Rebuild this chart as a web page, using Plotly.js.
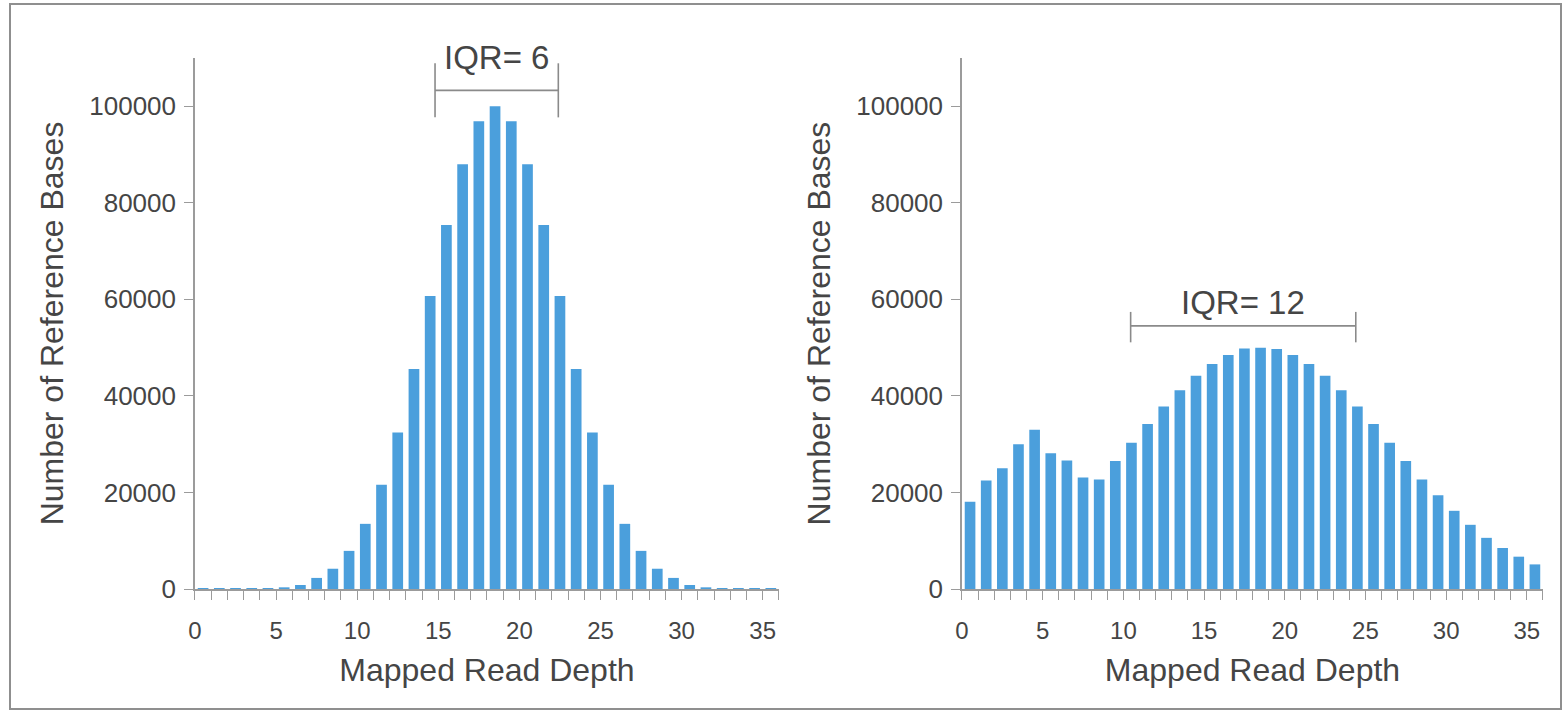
<!DOCTYPE html>
<html>
<head>
<meta charset="utf-8">
<script src="https://cdn.plot.ly/plotly-3.0.1.min.js"></script>
<style>
  html, body { margin: 0; padding: 0; background: #fff; }
  #wrap { position: relative; width: 1566px; height: 715px; overflow: hidden; }
  #chart { position: absolute; left: 0; top: 0; width: 1566px; height: 715px; }
  #frame { position: absolute; left: 9px; top: 3px; width: 1553px; height: 707px;
           border: 2px solid #8f8f8f; pointer-events: none; box-sizing: border-box; }
</style>
</head>
<body>
<div id="wrap">
  <div id="chart"></div>
  <div id="frame"></div>
</div>
<script>
// ---- data ----
const depthBins = [0.5,1.5,2.5,3.5,4.5,5.5,6.5,7.5,8.5,9.5,10.5,11.5,12.5,13.5,14.5,15.5,16.5,17.5,
                   18.5,19.5,20.5,21.5,22.5,23.5,24.5,25.5,26.5,27.5,28.5,29.5,30.5,31.5,32.5,33.5,34.5,35.5];
const leftCounts = [150,150,150,150,150,350,830,2300,4200,7900,13500,21600,32400,45600,60700,75400,88000,96900,
                    100000,96900,88000,75400,60700,45600,32400,21600,13500,7900,4200,2300,830,350,150,150,150,150];
const rightCounts = [18100,22500,25000,30000,33000,28100,26600,23100,22700,26500,30300,34200,37800,41200,44200,46600,48500,49800,
                     50000,49700,48500,46600,44200,41200,37800,34200,30300,26500,22700,19400,16200,13300,10600,8500,6700,5100];
const xTickVals = [0,5,10,15,20,25,30,35];
const yTickVals = [0,20000,40000,60000,80000,100000];
const yTickText = ['0','20000','40000','60000','80000','100000'];
const xTitle = 'Mapped Read Depth';
const yTitle = 'Number of Reference Bases';
const yMax = 110000;
// IQR brackets: [start, end], bar level, tick low/high, label level
const iqrLeft  = {label: 'IQR= 6',  x0: 14.8, x1: 22.4, y: 103300, yLo: 97700, yHi: 108900, labelY: 110000};
const iqrRight = {label: 'IQR= 12', x0: 10.45, x1: 24.4, y: 54500,  yLo: 51100, yHi: 57400,  labelY: 59400};

const barColor = '#4b9fdc';
const axisColor = '#9b9b9b';
const textColor = '#454545';
const fontFam = '"Liberation Sans", Arial, Helvetica, sans-serif';

const traces = [
  {type: 'bar', x: depthBins, y: leftCounts, xaxis: 'x', yaxis: 'y',
   marker: {color: barColor}, width: 0.66, hoverinfo: 'x+y'},
  {type: 'bar', x: depthBins, y: rightCounts, xaxis: 'x2', yaxis: 'y2',
   marker: {color: barColor}, width: 0.66, hoverinfo: 'x+y'}
];

function xAxis(domain, anchor) {
  return {
    domain: domain, anchor: anchor, range: [0, 36],
    tickmode: 'array', tickvals: xTickVals,
    showline: true, linecolor: axisColor, linewidth: 1.5,
    ticks: 'outside', ticklen: 9, tickwidth: 1.2, tickcolor: axisColor,
    ticklabelstandoff: 10,
    minor: {dtick: 1, tick0: 0, ticks: 'outside', ticklen: 9, tickwidth: 1.2, tickcolor: axisColor, showgrid: false},
    showgrid: false, zeroline: false, fixedrange: true,
    tickfont: {family: fontFam, size: 24, color: textColor},
    title: {text: xTitle, font: {family: fontFam, size: 32, color: textColor}, standoff: 16}
  };
}
function yAxis(domain, anchor) {
  return {
    domain: domain, anchor: anchor, range: [0, yMax],
    tickmode: 'array', tickvals: yTickVals, ticktext: yTickText,
    showline: true, linecolor: axisColor, linewidth: 1.5,
    ticks: 'outside', ticklen: 9, tickwidth: 1.2, tickcolor: axisColor,
    ticklabelstandoff: 3,
    showgrid: false, zeroline: false, fixedrange: true,
    tickfont: {family: fontFam, size: 26, color: textColor},
    title: {text: yTitle, font: {family: fontFam, size: 32, color: textColor}, standoff: 16}
  };
}

function bracket(iq, xr, yr) {
  const line = {color: '#8a8a8a', width: 1.6};
  return [
    {type: 'line', xref: xr, yref: yr, x0: iq.x0, x1: iq.x1, y0: iq.y, y1: iq.y, line: line},
    {type: 'line', xref: xr, yref: yr, x0: iq.x0, x1: iq.x0, y0: iq.yLo, y1: iq.yHi, line: line},
    {type: 'line', xref: xr, yref: yr, x0: iq.x1, x1: iq.x1, y0: iq.yLo, y1: iq.yHi, line: line}
  ];
}

const layout = {
  width: 1566, height: 715,
  margin: {l: 0, r: 0, t: 0, b: 0},
  paper_bgcolor: '#ffffff', plot_bgcolor: '#ffffff',
  showlegend: false,
  bargap: 0.34,
  font: {family: fontFam, color: textColor},
  xaxis: xAxis([0.1245, 0.4974], 'y'),
  yaxis: yAxis([0.1762, 0.9189], 'x'),
  xaxis2: xAxis([0.6143, 0.9853], 'y2'),
  yaxis2: yAxis([0.1762, 0.9189], 'x2'),
  shapes: bracket(iqrLeft, 'x', 'y').concat(bracket(iqrRight, 'x2', 'y2')),
  annotations: [
    {xref: 'x', yref: 'y domain', x: (iqrLeft.x0 + iqrLeft.x1) / 2, y: iqrLeft.labelY / yMax, text: iqrLeft.label,
     showarrow: false, xanchor: 'center', yanchor: 'middle',
     font: {family: fontFam, size: 33, color: textColor}},
    {xref: 'x2', yref: 'y2 domain', x: (iqrRight.x0 + iqrRight.x1) / 2, y: iqrRight.labelY / yMax, text: iqrRight.label,
     showarrow: false, xanchor: 'center', yanchor: 'middle',
     font: {family: fontFam, size: 33, color: textColor}}
  ]
};

Plotly.newPlot('chart', traces, layout, {displayModeBar: false});
</script>
</body>
</html>
